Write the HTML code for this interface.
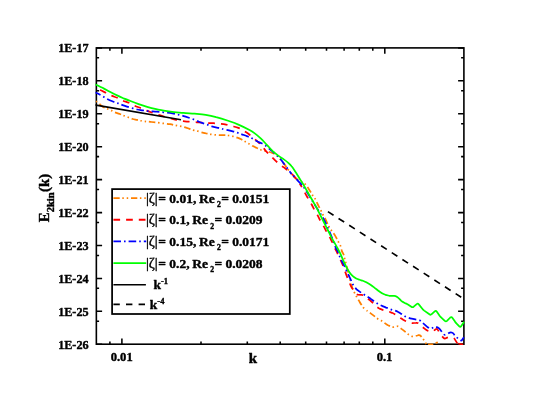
<!DOCTYPE html>
<html><head><meta charset="utf-8"><title>E2kin(k)</title>
<style>
html,body{margin:0;padding:0;background:#fff;}
body{width:539px;height:413px;overflow:hidden;}
svg{display:block;}
text{font-family:"Liberation Serif",serif;font-weight:bold;fill:#000;stroke:#000;stroke-width:0.4px;stroke-linejoin:round;}
svg{will-change:transform;}
</style></head><body>
<svg width="539" height="413" viewBox="0 0 539 413">
<rect width="539" height="413" fill="#fff"/>
<defs><clipPath id="pc"><rect x="95.5" y="47.0" width="369.3" height="298.1"/></clipPath></defs>
<g>
<rect x="112.1" y="189.1" width="177.7" height="124.9" fill="#fff" stroke="#000" stroke-width="1.75"/>
<path d="M113.4,198.1 H146.2" stroke="#ff8000" stroke-width="1.9" stroke-dasharray="6.3 2.6 1.5 2.9 1.5 2.8"/>
<path d="M113.4,219.8 H146.2" stroke="#ff0000" stroke-width="1.9" stroke-dasharray="6.7 6.0"/>
<path d="M113.4,241.4 H146.2" stroke="#0000ff" stroke-width="1.9" stroke-dasharray="7.6 3 1.6 3"/>
<path d="M113.4,263.1 H146.2" stroke="#00ff00" stroke-width="1.9"/>
<path d="M113.4,284.8 H145.9" stroke="#000" stroke-width="1.6"/>
<path d="M113.4,304.4 H145.9" stroke="#000" stroke-width="1.6" stroke-dasharray="6.4 6.2"/>
<text x="145.9" y="202.7" font-size="13.5"><tspan font-weight="normal" font-size="14.6">|ζ|</tspan><tspan dx="0.4">= 0.01,</tspan><tspan dx="-0.6"> Re</tspan><tspan font-size="7.7" dy="4.2" dx="2.3">2</tspan><tspan dy="-4.2" dx="0.2">= 0.0151</tspan></text>
<text x="145.9" y="224.4" font-size="13.5"><tspan font-weight="normal" font-size="14.6">|ζ|</tspan><tspan dx="0.4">= 0.1,</tspan><tspan dx="-0.6"> Re</tspan><tspan font-size="7.7" dy="4.2" dx="2.3">2</tspan><tspan dy="-4.2" dx="0.2">= 0.0209</tspan></text>
<text x="145.9" y="246.0" font-size="13.5"><tspan font-weight="normal" font-size="14.6">|ζ|</tspan><tspan dx="0.4">= 0.15,</tspan><tspan dx="-0.6"> Re</tspan><tspan font-size="7.7" dy="4.2" dx="2.3">2</tspan><tspan dy="-4.2" dx="0.2">= 0.0171</tspan></text>
<text x="145.9" y="267.7" font-size="13.5"><tspan font-weight="normal" font-size="14.6">|ζ|</tspan><tspan dx="0.4">= 0.2,</tspan><tspan dx="-0.6"> Re</tspan><tspan font-size="7.7" dy="4.2" dx="2.3">2</tspan><tspan dy="-4.2" dx="0.2">= 0.0208</tspan></text>
<text x="153.4" y="289.0" font-size="13.5">k<tspan font-size="8.5" dy="-5">-1</tspan></text>
<text x="149.8" y="308.8" font-size="13.5">k<tspan font-size="8.5" dy="-5">-4</tspan></text>
</g>
<g stroke="#000" stroke-width="1.55" fill="none">
<path d="M121.9,47.9 v5.8 M121.9,344.2 v-5.8"/>
<path d="M384.8,47.9 v5.8 M384.8,344.2 v-5.8"/>
<path d="M109.9,47.9 v2.8 M109.9,344.2 v-2.8"/>
<path d="M201.0,47.9 v2.8 M201.0,344.2 v-2.8"/>
<path d="M247.3,47.9 v2.8 M247.3,344.2 v-2.8"/>
<path d="M280.2,47.9 v2.8 M280.2,344.2 v-2.8"/>
<path d="M305.7,47.9 v2.8 M305.7,344.2 v-2.8"/>
<path d="M326.5,47.9 v2.8 M326.5,344.2 v-2.8"/>
<path d="M344.1,47.9 v2.8 M344.1,344.2 v-2.8"/>
<path d="M359.3,47.9 v2.8 M359.3,344.2 v-2.8"/>
<path d="M372.8,47.9 v2.8 M372.8,344.2 v-2.8"/>
<path d="M96.3,47.9 h5.8 M463.9,47.9 h-5.8"/>
<path d="M96.3,57.8 h2.8 M463.9,57.8 h-2.8"/>
<path d="M96.3,80.8 h5.8 M463.9,80.8 h-5.8"/>
<path d="M96.3,90.7 h2.8 M463.9,90.7 h-2.8"/>
<path d="M96.3,113.8 h5.8 M463.9,113.8 h-5.8"/>
<path d="M96.3,123.7 h2.8 M463.9,123.7 h-2.8"/>
<path d="M96.3,146.7 h5.8 M463.9,146.7 h-5.8"/>
<path d="M96.3,156.6 h2.8 M463.9,156.6 h-2.8"/>
<path d="M96.3,179.6 h5.8 M463.9,179.6 h-5.8"/>
<path d="M96.3,189.5 h2.8 M463.9,189.5 h-2.8"/>
<path d="M96.3,212.6 h5.8 M463.9,212.6 h-5.8"/>
<path d="M96.3,222.5 h2.8 M463.9,222.5 h-2.8"/>
<path d="M96.3,245.5 h5.8 M463.9,245.5 h-5.8"/>
<path d="M96.3,255.4 h2.8 M463.9,255.4 h-2.8"/>
<path d="M96.3,278.4 h5.8 M463.9,278.4 h-5.8"/>
<path d="M96.3,288.3 h2.8 M463.9,288.3 h-2.8"/>
<path d="M96.3,311.3 h5.8 M463.9,311.3 h-5.8"/>
<path d="M96.3,321.3 h2.8 M463.9,321.3 h-2.8"/>
<path d="M96.3,344.3 h5.8 M463.9,344.3 h-5.8"/>
</g>
<rect x="96.35" y="47.90" width="367.55" height="296.30" stroke="#000" stroke-width="1.6" fill="none"/>
<g clip-path="url(#pc)">
<path d="M95.0,100.4 C95.2,100.5 95.3,100.6 96.0,101.2 C96.7,101.8 98.2,103.0 99.3,103.9 C100.4,104.8 101.4,105.9 102.7,106.7 C104.0,107.5 105.7,108.1 107.1,108.7 C108.5,109.3 109.7,109.7 111.0,110.3 C112.3,110.9 113.4,111.7 114.9,112.3 C116.4,112.9 118.4,113.5 119.9,114.0 C121.4,114.5 122.4,115.0 123.8,115.6 C125.2,116.1 126.8,116.7 128.3,117.3 C129.8,117.9 131.2,118.6 132.7,119.0 C134.2,119.4 135.9,119.6 137.2,119.9 C138.5,120.2 139.2,120.3 140.5,120.6 C141.8,120.8 143.1,121.2 145.0,121.4 C146.9,121.6 149.0,121.7 151.7,122.0 C154.4,122.3 158.0,122.7 161.1,123.1 C164.2,123.5 167.6,123.8 170.0,124.2 C172.4,124.6 173.7,124.9 175.6,125.3 C177.5,125.7 179.3,126.0 181.2,126.4 C183.0,126.8 184.7,127.3 186.7,127.9 C188.7,128.5 191.5,129.6 193.4,130.1 C195.3,130.6 196.2,130.7 197.9,131.2 C199.6,131.7 202.0,132.5 203.5,132.9 C205.0,133.3 205.8,133.4 207.0,133.6 C208.2,133.8 209.3,134.1 210.6,134.3 C211.9,134.5 213.5,134.7 215.0,134.8 C216.5,135.0 217.8,135.1 219.5,135.2 C221.2,135.3 223.5,135.1 225.0,135.2 C226.5,135.2 227.1,135.3 228.4,135.5 C229.7,135.7 231.3,136.0 232.8,136.3 C234.3,136.7 235.8,137.1 237.3,137.6 C238.8,138.1 240.4,138.9 241.7,139.6 C243.0,140.3 244.0,140.9 245.1,141.6 C246.2,142.2 247.1,142.8 248.4,143.5 C249.7,144.2 251.4,145.3 252.9,146.1 C254.4,146.9 256.0,147.6 257.3,148.2 C258.6,148.8 259.3,149.2 260.6,149.7 C261.9,150.2 263.4,150.6 264.9,151.0 C266.4,151.4 268.1,151.6 269.4,152.0 C270.7,152.4 271.6,152.8 272.7,153.2 C273.8,153.6 274.7,153.7 276.0,154.7 C277.3,155.7 279.0,157.6 280.5,159.3 C282.0,161.0 283.8,163.5 285.0,165.1 C286.2,166.7 286.6,167.5 287.7,169.0 C288.8,170.5 290.0,172.3 291.5,174.0 C293.0,175.7 294.4,177.3 296.5,178.9 C298.6,180.5 302.3,181.7 304.3,183.4 C306.3,185.1 307.4,187.1 308.7,188.9 C310.0,190.8 311.1,192.9 312.1,194.5 C313.1,196.1 314.0,196.8 314.9,198.4 C315.8,200.0 316.7,202.2 317.6,204.0 C318.5,205.8 319.5,207.8 320.4,209.5 C321.3,211.2 321.9,212.8 322.8,214.5 C323.7,216.2 324.7,217.7 325.6,219.5 C326.5,221.3 327.5,223.8 328.4,225.6 C329.3,227.4 330.1,228.4 331.2,230.1 C332.3,231.8 333.9,233.6 335.1,235.6 C336.3,237.6 337.5,240.1 338.4,241.8 C339.3,243.5 339.8,244.1 340.4,245.6 C341.0,247.1 341.4,249.6 341.9,251.1 C342.4,252.6 343.1,253.2 343.6,254.5 C344.1,255.8 344.3,257.5 344.7,258.9 C345.1,260.3 345.1,260.3 345.8,262.8 C346.5,265.3 347.6,270.1 348.6,274.0 C349.6,277.9 351.0,283.4 351.9,286.4 C352.8,289.4 353.4,290.2 354.1,291.9 C354.9,293.6 355.6,294.9 356.4,296.4 C357.2,297.9 358.3,299.5 359.1,300.9 C359.9,302.3 360.5,303.5 361.4,304.8 C362.2,306.1 363.2,307.6 364.2,308.6 C365.2,309.6 366.7,310.5 367.2,310.9 L367.2,310.9 L371.0,313.6 Q372.2,314.5 373.4,315.4 L376.6,318.0 Q377.8,318.9 379.1,319.6 L381.0,320.5 Q382.3,321.2 383.5,322.1 L385.5,323.6 Q386.7,324.5 388.0,325.2 L391.0,326.6 Q392.3,327.3 393.7,326.9 L395.9,326.2 Q397.3,325.8 398.5,326.7 L401.1,328.6 Q402.3,329.5 403.5,330.4 L406.7,333.1 Q407.9,334.0 409.1,334.9 L410.4,335.7 Q411.6,336.6 413.1,336.3 L414.5,336.1 Q416.0,335.8 417.5,335.5 L418.4,335.2 Q419.9,334.9 420.9,336.1 L421.7,337.1 Q422.7,338.3 423.5,339.5 L424.1,340.4 Q424.9,341.6 425.7,342.9 L426.8,344.8" stroke="#ff8000" stroke-width="1.75" fill="none" stroke-dasharray="6.4 2.6 1.5 2.9 1.5 2.9" stroke-dashoffset="12.1" stroke-linejoin="round"/>
<path d="M428.1,344.4 L433.3,344.4" stroke="#ff8000" stroke-width="1.75" fill="none"/>
<path d="M436.3,342.9 L437.1,342.5" stroke="#ff8000" stroke-width="1.75" fill="none" stroke-linecap="round"/>
<path d="M95.0,88.0 C95.2,88.1 95.2,88.1 96.0,88.4 C96.8,88.7 98.2,89.3 99.9,90.0 C101.6,90.7 104.0,91.9 106.0,92.8 C108.0,93.7 109.7,94.8 111.6,95.6 C113.5,96.4 115.3,97.0 117.2,97.8 C119.1,98.6 120.8,99.8 122.7,100.6 C124.7,101.4 127.0,102.0 128.9,102.8 C130.8,103.6 132.6,104.8 134.4,105.6 C136.2,106.4 137.9,107.0 140.0,107.8 C142.1,108.6 144.8,109.8 146.7,110.6 C148.6,111.4 149.3,111.7 151.7,112.5 C154.1,113.3 157.7,114.5 161.1,115.6 C164.5,116.7 169.5,118.2 172.3,118.9 C175.1,119.7 176.0,119.7 177.8,120.1 C179.7,120.5 181.5,120.9 183.4,121.2 C185.3,121.5 186.8,121.5 189.0,121.7 C191.2,121.9 194.6,122.2 196.8,122.3 C199.0,122.4 200.6,122.4 202.3,122.6 C204.0,122.8 205.3,123.1 207.2,123.2 C209.0,123.3 211.2,123.1 213.4,123.2 C215.6,123.3 218.5,123.6 220.6,123.8 C222.7,124.0 224.2,124.2 226.2,124.6 C228.2,125.0 230.8,125.8 232.8,126.3 C234.8,126.8 236.6,127.2 238.4,127.9 C240.2,128.6 241.7,129.5 243.4,130.5 C245.1,131.5 246.6,132.5 248.4,133.8 C250.2,135.1 252.3,137.1 254.0,138.5 C255.7,139.9 257.0,141.0 258.5,142.4 C260.0,143.8 261.6,145.5 262.9,147.0 C264.1,148.5 264.6,149.7 266.0,151.2 C267.4,152.7 269.5,154.7 271.0,156.2 C272.5,157.7 273.2,158.5 274.9,160.1 C276.6,161.7 279.4,164.2 281.1,165.6 C282.8,166.9 283.6,167.1 285.0,168.2 C286.4,169.3 288.0,170.8 289.5,172.2 C291.0,173.6 292.4,174.3 294.2,176.4 C296.0,178.5 298.3,181.5 300.4,184.8" stroke="#ff0000" stroke-width="1.75" fill="none" stroke-dasharray="6.7 6.0" stroke-dashoffset="7.30" stroke-linejoin="round"/>
<path d="M300.4,184.8 C302.5,188.1 304.8,192.7 306.7,196.0 C308.6,199.3 310.5,202.3 311.7,204.5 C312.9,206.7 312.9,207.1 313.9,208.9 C314.9,210.8 316.8,213.8 317.8,215.6 C318.8,217.4 319.0,218.2 320.0,220.0 C321.0,221.8 322.9,224.8 323.9,226.7 C324.9,228.6 325.2,229.3 326.2,231.2 C327.2,233.1 329.1,236.1 330.1,237.9 C331.1,239.8 331.5,240.5 332.3,242.3 C333.1,244.1 334.4,247.2 335.2,248.9 C336.0,250.6 336.0,250.2 336.9,252.2 C337.8,254.1 339.8,258.4 340.8,260.6 C341.8,262.8 342.2,263.6 343.0,265.6 C343.8,267.6 344.7,270.4 345.5,272.6 C346.3,274.9 347.1,276.9 348.0,279.1 C348.9,281.3 350.0,284.1 350.8,285.8 C351.6,287.5 351.9,287.9 353.0,289.4 C354.1,290.9 356.8,293.7 357.5,294.6 L357.5,294.6 L361.5,294.8 Q363.0,294.9 364.2,295.8 L367.4,298.3 Q368.6,299.2 369.8,300.2 L370.8,301.0 Q372.0,302.0 373.1,303.1 L376.4,306.4 Q377.5,307.5 378.8,308.2 L380.7,309.1 Q382.0,309.8 383.4,310.2 L388.0,311.4 Q389.4,311.8 390.8,312.4 L392.0,312.8 Q393.4,313.4 394.7,314.2 L398.8,317.0 Q400.1,317.8 401.4,318.6 L403.2,319.8 Q404.5,320.6 405.9,321.2 L407.6,322.0 Q409.0,322.6 410.5,322.9 L410.9,322.9 Q412.4,323.2 413.9,323.0 L416.2,322.8 Q417.7,322.6 418.8,323.6 L420.8,325.6 Q421.9,326.6 423.1,327.5 L425.2,329.1 Q426.4,330.0 427.7,330.7 L430.1,331.8 Q431.4,332.5 432.6,331.6 L435.8,329.2 Q437.0,328.3 437.7,329.6 L439.8,333.2 Q440.5,334.5 441.5,335.6 L443.5,337.8 Q444.5,338.9 445.9,338.3 L447.2,337.6 Q448.6,337.0 450.1,337.2 L452.4,337.6 Q453.9,337.8 454.7,339.1 L457.3,343.4" stroke="#ff0000" stroke-width="1.75" fill="none" stroke-dasharray="6.7 6.0" stroke-dashoffset="3.84" stroke-linejoin="round"/>
<path d="M458.4,343.6 L463.2,344.5" stroke="#ff0000" stroke-width="1.75" fill="none"/>
<path d="M95.0,92.3 C95.2,92.4 95.1,92.4 96.0,92.8 C96.9,93.2 99.2,94.3 100.5,95.0 C101.8,95.7 102.7,96.2 103.8,96.9 C104.9,97.6 105.2,98.0 107.1,98.9 C108.9,99.8 113.0,101.5 114.9,102.3 C116.9,103.1 117.5,103.1 118.8,103.6 C120.1,104.1 120.9,104.5 122.7,105.1 C124.5,105.7 127.0,106.6 129.4,107.3 C131.8,108.0 135.0,109.0 137.2,109.5 C139.4,110.0 141.0,110.0 142.8,110.3 C144.7,110.6 146.0,111.0 148.3,111.2 C150.6,111.4 154.2,111.5 156.7,111.7 C159.2,111.9 160.8,112.0 163.4,112.3 C166.0,112.6 169.7,113.0 172.3,113.4 C174.9,113.8 176.8,114.2 179.0,114.8 C181.2,115.3 183.4,116.0 185.6,116.7 C187.8,117.4 190.1,118.1 192.3,118.9 C194.5,119.7 197.1,121.0 199.0,121.7 C200.9,122.5 202.1,122.9 203.5,123.4 C204.9,123.9 205.9,124.1 207.3,124.6 C208.7,125.1 209.8,125.8 211.7,126.3 C213.5,126.8 216.7,127.5 218.4,127.9 C220.1,128.3 220.4,128.4 221.7,128.7 C223.0,129.0 224.3,129.4 226.2,129.8 C228.0,130.2 231.0,130.8 232.8,131.3 C234.7,131.8 236.0,132.3 237.3,132.7 C238.6,133.1 238.9,133.2 240.6,133.8 C242.3,134.4 245.6,135.7 247.3,136.3 C249.0,137.0 249.4,137.0 250.7,137.7 C252.0,138.3 253.6,139.4 255.1,140.2 C256.6,141.0 258.3,141.9 259.9,142.6 C261.4,143.3 263.0,143.7 264.4,144.6 C265.8,145.5 267.0,146.8 268.2,147.8 C269.4,148.8 269.9,149.1 271.6,150.6 C273.3,152.1 276.6,155.0 278.3,156.7 C280.0,158.4 280.7,159.4 281.6,160.6 C282.5,161.8 282.7,162.1 283.8,163.6 C284.9,165.1 287.0,167.8 288.3,169.5 C289.6,171.2 290.6,172.8 291.6,174.0" stroke="#0000ff" stroke-width="1.75" fill="none" stroke-dasharray="7.7 3.1 1.6 3.1" stroke-dashoffset="1.60" stroke-linejoin="round"/>
<path d="M291.6,174.0 C292.6,175.2 293.0,175.4 294.2,176.7 C295.4,178.0 297.3,180.2 298.7,181.7 C300.1,183.2 301.4,184.1 302.6,185.6 C303.8,187.1 304.6,188.5 305.9,190.5 C307.2,192.5 308.9,195.2 310.3,197.5 C311.7,199.8 313.0,201.9 314.3,204.0 C315.6,206.1 317.0,208.5 318.2,210.3 C319.4,212.1 320.3,213.3 321.3,215.0 C322.3,216.7 323.2,218.1 324.4,220.5 C325.6,222.9 327.1,226.3 328.5,229.5 C329.9,232.7 331.5,236.4 332.7,239.5 C333.9,242.6 334.9,245.7 335.8,247.8 C336.7,249.9 337.3,250.5 338.0,252.2 C338.7,253.9 339.4,255.9 340.2,257.8 C341.0,259.7 342.2,261.9 343.0,263.4 C343.8,264.9 343.9,265.0 344.7,266.7 C345.5,268.4 346.9,271.5 347.8,273.5 C348.8,275.5 349.5,277.0 350.4,278.9 C351.3,280.8 352.0,282.9 353.0,284.6 C354.0,286.3 355.8,288.4 356.4,289.2 L356.4,289.2 L359.6,291.6 Q360.8,292.5 362.1,293.3 L364.0,294.5 Q365.3,295.3 366.6,296.1 L368.4,297.3 Q369.7,298.1 370.9,299.0 L373.0,300.5 Q374.2,301.4 375.5,302.2 L377.3,303.4 Q378.6,304.2 379.9,304.9 L381.8,305.7 Q383.1,306.4 384.5,306.9 L386.1,307.6 Q387.5,308.1 388.9,308.6 L390.6,309.3 Q392.0,309.8 393.5,310.2 L395.0,310.5 Q396.5,310.9 397.8,311.7 L399.9,312.9 Q401.2,313.7 402.4,314.5 L404.5,315.9 Q405.7,316.7 407.1,317.2 L408.7,317.9 Q410.1,318.4 411.6,318.7 L414.2,319.2 Q415.7,319.5 417.2,319.7 L418.0,319.8 Q419.5,320.0 420.6,321.0 L421.4,321.7 Q422.5,322.7 423.6,323.7 L425.8,325.6 Q426.9,326.6 428.1,327.4 L429.6,328.4 Q430.8,329.2 432.0,328.3 L433.5,327.0 Q434.7,326.1 436.0,326.8 L437.9,327.6 Q439.2,328.3 440.1,329.5 L441.0,330.7 Q441.9,331.9 442.9,333.1 L443.7,334.1 Q444.7,335.3 446.0,334.6 L449.0,332.9 Q450.3,332.2 451.6,332.5 L451.8,332.5 Q453.1,332.8 453.9,334.1 L454.5,335.1 Q455.3,336.4 456.5,337.3 L460.2,340.2 Q461.4,341.1 462.2,339.8 L463.9,337.3" stroke="#0000ff" stroke-width="1.75" fill="none" stroke-dasharray="7.7 3.1 1.6 3.1" stroke-dashoffset="8.29" stroke-linejoin="round"/>
<path d="M95.0,84.3 C95.1,84.3 94.0,83.8 95.5,84.5 C97.0,85.2 101.5,87.3 104.0,88.6 C106.5,89.9 108.5,91.0 110.8,92.2 C113.1,93.4 115.3,94.5 117.6,95.6 C119.8,96.7 122.0,97.6 124.3,98.6 C126.5,99.5 128.8,100.4 131.1,101.3 C133.4,102.2 135.7,103.1 138.0,103.9 C140.3,104.7 142.5,105.5 144.8,106.2 C147.1,106.9 149.3,107.5 151.6,108.1 C153.8,108.7 156.1,109.2 158.3,109.7 C160.6,110.2 162.5,110.5 165.1,110.9 C167.7,111.3 170.9,111.8 174.0,112.1 C177.1,112.4 180.0,112.6 183.4,112.9 C186.8,113.2 190.8,113.4 194.5,113.7 C198.2,114.0 202.1,114.2 205.7,114.8 C209.3,115.4 212.5,116.1 216.1,117.1 C219.7,118.0 223.6,119.2 227.3,120.5 C231.0,121.8 234.7,123.0 238.4,124.6 C242.1,126.2 246.7,128.5 249.5,130.0 C252.3,131.5 253.2,132.2 255.1,133.6 C257.0,135.0 258.7,136.5 260.7,138.4 C262.7,140.3 265.1,143.0 267.1,145.1 C269.1,147.2 270.8,149.3 272.7,151.1 C274.6,152.8 276.4,154.2 278.3,155.6 C280.2,157.0 282.1,158.2 283.8,159.4 C285.5,160.6 287.0,161.7 288.3,162.8 C289.6,164.0 290.5,164.9 291.6,166.3 C292.8,167.7 293.6,169.0 295.2,171.4 C296.8,173.8 299.4,178.1 300.9,180.6 C302.4,183.1 303.0,184.0 304.3,186.2 C305.6,188.4 307.2,191.4 308.7,194.0 C310.2,196.6 311.8,199.2 313.2,201.7 C314.6,204.2 315.6,205.8 317.2,208.9 C318.8,212.0 321.1,216.7 322.8,220.0 C324.5,223.3 325.8,226.0 327.3,229.0 C328.8,232.0 330.2,235.0 331.7,237.9 C333.2,240.8 335.1,243.7 336.5,246.3 C337.9,248.9 339.0,250.9 340.2,253.4 C341.4,255.9 342.5,258.8 343.6,261.2 C344.7,263.6 345.6,265.7 346.6,267.5 C347.6,269.3 348.4,270.8 349.4,272.2 C350.4,273.6 351.7,275.1 352.8,276.1 C353.9,277.1 355.1,277.8 356.2,278.4 C357.3,279.0 358.5,279.4 359.6,279.8 C360.7,280.2 361.8,280.4 362.9,280.8 C364.0,281.2 365.2,281.6 366.3,282.2 C367.4,282.8 368.6,283.5 369.7,284.2 C370.8,284.9 372.0,285.8 373.1,286.6 C374.2,287.5 375.0,288.2 376.5,289.3 C378.0,290.4 380.5,292.4 382.0,293.3 C383.5,294.2 384.2,294.4 385.5,294.8 C386.8,295.2 388.8,295.6 389.5,295.8 L389.5,295.8 L394.1,295.9 Q395.6,295.9 396.8,296.8 L397.1,296.9 Q398.3,297.8 399.4,298.8 L401.3,300.8 Q402.4,301.8 403.8,302.4 L405.7,303.4 Q407.1,304.0 408.3,304.8 L411.3,306.8 Q412.5,307.6 413.7,306.7 L416.7,304.1 Q417.9,303.2 418.8,304.4 L422.1,308.5 Q423.0,309.7 424.2,310.6 L429.4,314.3 Q430.6,315.2 431.7,314.2 L434.7,311.4 Q435.8,310.4 436.7,311.6 L439.6,315.7 Q440.5,316.9 441.6,317.9 L444.8,320.8 Q445.9,321.8 447.0,320.8 L450.3,317.5 Q451.4,316.5 452.3,317.7 L455.0,321.6 Q455.9,322.8 456.9,323.9 L459.3,326.4 Q460.3,327.5 461.1,326.3 L464.2,321.8" stroke="#00ff00" stroke-width="1.75" fill="none" stroke-linejoin="round"/>
<path d="M95.0,104.9 L96.0,105.1 L181.0,119.7" stroke="#000" stroke-width="1.65" fill="none"/>
<path d="M327.9,211.6 L461.3,297.3" stroke="#000" stroke-width="1.65" fill="none" stroke-dasharray="6.7 5.95"/>
</g>
<g>
<text x="88.6" y="51.9" text-anchor="end" font-size="12.2">1E-17</text>
<text x="88.6" y="84.9" text-anchor="end" font-size="12.2">1E-18</text>
<text x="88.6" y="117.9" text-anchor="end" font-size="12.2">1E-19</text>
<text x="88.6" y="150.9" text-anchor="end" font-size="12.2">1E-20</text>
<text x="88.6" y="183.9" text-anchor="end" font-size="12.2">1E-21</text>
<text x="88.6" y="216.8" text-anchor="end" font-size="12.2">1E-22</text>
<text x="88.6" y="249.8" text-anchor="end" font-size="12.2">1E-23</text>
<text x="88.6" y="282.8" text-anchor="end" font-size="12.2">1E-24</text>
<text x="88.6" y="315.8" text-anchor="end" font-size="12.2">1E-25</text>
<text x="88.6" y="348.8" text-anchor="end" font-size="12.2">1E-26</text>
<text x="121.7" y="360.6" text-anchor="middle" font-size="12.6">0.01</text>
<text x="384.5" y="360.6" text-anchor="middle" font-size="12.6">0.1</text>
<text x="252.9" y="363.2" text-anchor="middle" font-size="15">k</text>
<text transform="translate(49.2,222.2) rotate(-90)" font-size="14.8">E<tspan font-size="10.5" dy="4.6">2kin</tspan><tspan dy="-4.6" dx="0.5">(k)</tspan></text>
</g>
</svg>
</body></html>
